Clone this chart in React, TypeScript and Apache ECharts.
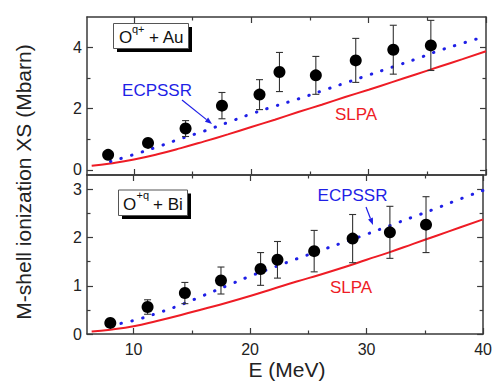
import React, { useEffect, useRef } from "react";
import * as echarts from "echarts";

// ---- axes ----
const xMin = 6;
const xMax = 40;
const xMajorTicks = [10, 20, 30, 40];
const xMinorTicks = [15, 25, 35];
const auYMin = -0.17;
const auYMax = 5;
const auMajorTicks = [0, 2, 4];
const auMinorTicks = [1, 3];
const biYMin = 0;
const biYMax = 3.3;
const biMajorTicks = [0, 1, 2, 3];
const biMinorTicks = [0.5, 1.5, 2.5];

// ---- measured data: O + Au ----
const auE = [7.8, 11.2, 14.4, 17.5, 20.7, 22.4, 25.5, 28.9, 32.1, 35.3];
const auXS = [0.49, 0.88, 1.35, 2.1, 2.46, 3.2, 3.09, 3.58, 3.93, 4.07];
const auErr = [0.08, 0.1, 0.26, 0.43, 0.49, 0.64, 0.62, 0.72, 0.8, 0.82];

// ---- measured data: O + Bi ----
const biE = [8.0, 11.2, 14.4, 17.5, 20.9, 22.35, 25.5, 28.8, 32.0, 35.1];
const biXS = [0.23, 0.56, 0.85, 1.11, 1.35, 1.54, 1.72, 1.98, 2.11, 2.27];
const biErr = [0.06, 0.15, 0.22, 0.28, 0.34, 0.38, 0.43, 0.5, 0.54, 0.58];

// ---- theory curves ----
const slpaE = [6.4, 8, 10, 12, 14, 16, 18, 20, 22, 24, 26, 28, 30, 32, 34, 36, 38, 40];
const slpaAu = [0.13, 0.21, 0.34, 0.51, 0.71, 0.93, 1.16, 1.4, 1.64, 1.89, 2.13, 2.38, 2.62, 2.87, 3.12, 3.37, 3.62, 3.88];
const slpaBi = [0.05, 0.09, 0.16, 0.27, 0.39, 0.52, 0.65, 0.79, 0.94, 1.09, 1.23, 1.38, 1.54, 1.7, 1.87, 2.04, 2.21, 2.38];

const ecpssrE = [8, 10, 12, 14, 16, 18, 20, 22, 24, 26, 28, 30, 32, 34, 36, 38, 40];
const ecpssrAu = [0.27, 0.5, 0.75, 1.02, 1.27, 1.55, 1.83, 2.08, 2.32, 2.58, 2.84, 3.1, 3.36, 3.62, 3.9, 4.14, 4.37];
const ecpssrBi = [0.18, 0.28, 0.43, 0.6, 0.8, 1.0, 1.2, 1.38, 1.56, 1.73, 1.9, 2.07, 2.25, 2.43, 2.61, 2.8, 2.98];

const FONT = "'Liberation Sans', Arial, Helvetica, sans-serif";
const AXIS_COLOR = "#3a3a3a";
const RED = "#ee1c25";
const BLUE = "#1f1fe6";

const zip = (xs: number[], ys: number[]) => xs.map((x, i) => [x, ys[i]]);

function makeXAxes(grid: number, showLabels: boolean) {
  const line = { show: true, onZero: false, lineStyle: { color: AXIS_COLOR, width: 1.5 } };
  const tickStyle = { color: AXIS_COLOR, width: 1.2 };
  const base: any = {
    type: "value",
    gridIndex: grid,
    min: xMin,
    max: xMax,
    offset: 0,
    splitLine: { show: false },
    axisLabel: { show: false },
    axisLine: { show: false, onZero: false },
  };
  return [
    {
      ...base,
      position: "bottom",
      axisLine: line,
      axisTick: { show: true, inside: true, length: 6, customValues: xMajorTicks, lineStyle: tickStyle },
      axisLabel: showLabels
        ? { show: true, customValues: xMajorTicks, fontSize: 16, fontFamily: FONT, color: "#222", margin: 7 }
        : { show: false },
    },
    {
      ...base,
      position: "bottom",
      axisTick: { show: true, inside: true, length: 3.5, customValues: xMinorTicks, lineStyle: tickStyle },
    },
    {
      ...base,
      position: "top",
      axisLine: line,
      axisTick: { show: true, inside: true, length: 6, customValues: xMajorTicks, lineStyle: tickStyle },
    },
    {
      ...base,
      position: "top",
      axisTick: { show: true, inside: true, length: 3.5, customValues: xMinorTicks, lineStyle: tickStyle },
    },
  ];
}

function makeYAxes(grid: number, min: number, max: number, major: number[], minor: number[]) {
  const line = { show: true, onZero: false, lineStyle: { color: AXIS_COLOR, width: 1.5 } };
  const tickStyle = { color: AXIS_COLOR, width: 1.2 };
  const base: any = {
    type: "value",
    gridIndex: grid,
    min,
    max,
    offset: 0,
    splitLine: { show: false },
    axisLabel: { show: false },
    axisLine: { show: false, onZero: false },
  };
  return [
    {
      ...base,
      position: "left",
      axisLine: line,
      axisTick: { show: true, inside: true, length: 6, customValues: major, lineStyle: tickStyle },
      axisLabel: { show: true, customValues: major, fontSize: 16, fontFamily: FONT, color: "#222", margin: 5 },
    },
    {
      ...base,
      position: "left",
      axisTick: { show: true, inside: true, length: 3.5, customValues: minor, lineStyle: tickStyle },
    },
    {
      ...base,
      position: "right",
      axisLine: line,
      axisTick: { show: true, inside: true, length: 6, customValues: major, lineStyle: tickStyle },
    },
    {
      ...base,
      position: "right",
      axisTick: { show: true, inside: true, length: 3.5, customValues: minor, lineStyle: tickStyle },
    },
  ];
}

function errorSeries(xIdx: number, yIdx: number, es: number[], vs: number[], errs: number[]) {
  return {
    type: "custom",
    xAxisIndex: xIdx,
    yAxisIndex: yIdx,
    z: 3,
    encode: { x: 0, y: [1, 2] },
    data: es.map((e, i) => [e, vs[i] - errs[i], vs[i] + errs[i]]),
    renderItem: (_params: any, api: any) => {
      const x = api.value(0);
      const lo = api.coord([x, api.value(1)]);
      const hi = api.coord([x, api.value(2)]);
      const cap = 3.5;
      const style = { stroke: "#333", lineWidth: 1.1, fill: "none" };
      return {
        type: "group",
        children: [
          { type: "line", shape: { x1: lo[0], y1: lo[1], x2: hi[0], y2: hi[1] }, style },
          { type: "line", shape: { x1: lo[0] - cap, y1: lo[1], x2: lo[0] + cap, y2: lo[1] }, style },
          { type: "line", shape: { x1: hi[0] - cap, y1: hi[1], x2: hi[0] + cap, y2: hi[1] }, style },
        ],
      };
    },
  };
}

function arrow(x1: number, y1: number, x2: number, y2: number, color: string) {
  const ang = Math.atan2(y2 - y1, x2 - x1);
  const len = 7;
  const w = 2.6;
  const bx = x2 - len * Math.cos(ang);
  const by = y2 - len * Math.sin(ang);
  const px = -Math.sin(ang) * w;
  const py = Math.cos(ang) * w;
  return [
    { type: "line", shape: { x1, y1, x2: bx, y2: by }, style: { stroke: color, lineWidth: 1.2 } },
    {
      type: "polygon",
      shape: { points: [[x2, y2], [bx + px, by + py], [bx - px, by - py]] },
      style: { fill: color },
    },
  ];
}

function labelBox(x: number, y: number, w: number, h: number, base: string, sup: string, rest: string, tx: number, supX: number, restX: number) {
  const cy = y + h / 2 + 1.5;
  return [
    { type: "rect", shape: { x: x + 3.5, y: y + 3.5, width: w, height: h }, style: { fill: "#000" } },
    { type: "rect", shape: { x, y, width: w, height: h }, style: { fill: "#fff", stroke: "#555", lineWidth: 1 } },
    { type: "text", x: tx, y: cy, style: { text: base, font: `17px ${FONT}`, fill: "#111", textVerticalAlign: "middle" } },
    { type: "text", x: supX, y: cy - 9, style: { text: sup, font: `11px ${FONT}`, fill: "#111", textVerticalAlign: "middle" } },
    { type: "text", x: restX, y: cy, style: { text: rest, font: `17px ${FONT}`, fill: "#111", textVerticalAlign: "middle" } },
  ];
}

function txt(x: number, y: number, text: string, color: string, size: number, extra: any = {}) {
  return {
    type: "text",
    x,
    y,
    ...extra,
    style: { text, font: `${size}px ${FONT}`, fill: color, textAlign: "center", textVerticalAlign: "middle" },
  };
}

export default function App() {
  const ref = useRef<HTMLDivElement>(null);
  useEffect(() => {
    if (!ref.current) return;
    const chart = echarts.init(ref.current, null, { renderer: "svg" });
    const lineCommon = { type: "line", showSymbol: false, smooth: 0.5, z: 2 };
    const markerStyle = { color: "#000", opacity: 1 };
    const option: any = {
      animation: false,
      backgroundColor: "#fff",
      grid: [
        { left: 87, top: 17, width: 399, height: 158 },
        { left: 87, top: 175, width: 399, height: 159 },
      ],
      xAxis: [...makeXAxes(0, false), ...makeXAxes(1, true)],
      yAxis: [
        ...makeYAxes(0, auYMin, auYMax, auMajorTicks, auMinorTicks),
        ...makeYAxes(1, biYMin, biYMax, biMajorTicks, biMinorTicks),
      ],
      series: [
        { ...lineCommon, xAxisIndex: 0, yAxisIndex: 0, data: zip(slpaE, slpaAu), lineStyle: { color: RED, width: 2 } },
        {
          ...lineCommon,
          xAxisIndex: 0,
          yAxisIndex: 0,
          data: zip(ecpssrE, ecpssrAu),
          lineStyle: { color: BLUE, width: 3, type: [0.5, 10.5], cap: "round" },
        },
        errorSeries(0, 0, auE, auXS, auErr),
        { type: "scatter", xAxisIndex: 0, yAxisIndex: 0, z: 4, symbolSize: 12, itemStyle: markerStyle, data: zip(auE, auXS) },

        { ...lineCommon, xAxisIndex: 4, yAxisIndex: 4, data: zip(slpaE, slpaBi), lineStyle: { color: RED, width: 2 } },
        {
          ...lineCommon,
          xAxisIndex: 4,
          yAxisIndex: 4,
          data: zip(ecpssrE, ecpssrBi),
          lineStyle: { color: BLUE, width: 3, type: [0.5, 10.5], cap: "round" },
        },
        errorSeries(4, 4, biE, biXS, biErr),
        { type: "scatter", xAxisIndex: 4, yAxisIndex: 4, z: 4, symbolSize: 12, itemStyle: markerStyle, data: zip(biE, biXS) },
      ],
      graphic: [
        txt(23, 182, "M-shell ionization XS (Mbarn)", "#222", 21, { rotation: Math.PI / 2 }),
        txt(287, 369, "E (MeV)", "#222", 21),
        ...labelBox(113.5, 23.5, 75, 25, "O", "q+", "+ Au", 119, 132, 149),
        ...labelBox(118.5, 190, 69, 25.5, "O", "+q", "+ Bi", 123, 136.5, 153),
        txt(157, 90, "ECPSSR", BLUE, 17),
        ...arrow(182, 100, 212, 124, BLUE),
        txt(356, 114.5, "SLPA", RED, 17),
        txt(352.5, 195, "ECPSSR", BLUE, 17),
        ...arrow(366, 207, 373, 225, BLUE),
        txt(351, 287, "SLPA", RED, 17),
      ],
    };
    chart.setOption(option);
    return () => chart.dispose();
  }, []);
  return <div ref={ref} style={{ position: "fixed", left: 0, top: 0, width: 495, height: 383 }} />;
}
